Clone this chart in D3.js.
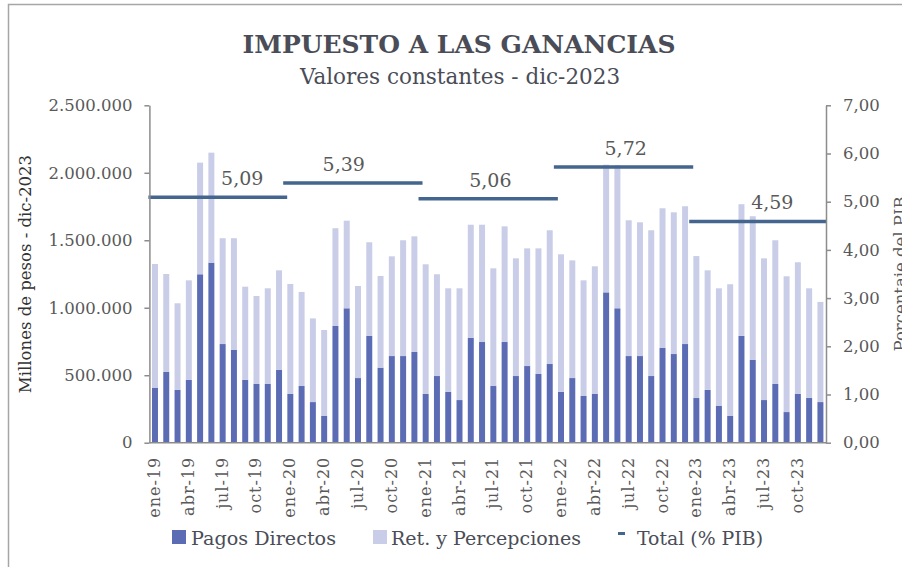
<!DOCTYPE html>
<html>
<head>
<meta charset="utf-8">
<script src="https://cdn.jsdelivr.net/npm/d3@7"></script>
<style>
  html, body { margin: 0; padding: 0; background: #fff; }
  #chart-wrapper { width: 902px; height: 567px; }
</style>
</head>
<body>
<div id="chart-wrapper"></div>
<script>
// Data (millones de pesos, valores constantes dic-2023)
const monthNames = ["ene","feb","mar","abr","may","jun","jul","ago","sep","oct","nov","dic"]
const years = ["19","20","21","22","23"]
const pagosDirectos = [
  408000, 524000, 391000, 465000, 1248000, 1334000, 731000, 687000, 465000, 435000, 435000, 539000,
  361000, 420000, 301000, 198000, 865000, 996000, 479000, 791000, 556000, 642000, 642000, 672000,
  361000, 494000, 376000, 316000, 776000, 746000, 420000, 746000, 494000, 568000, 509000, 583000,
  376000, 479000, 346000, 361000, 1114000, 996000, 642000, 642000, 494000, 702000, 657000, 731000,
  331000, 391000, 272000, 198000, 791000, 613000, 316000, 435000, 227000, 361000, 331000, 301000
]
const retYPercepciones = [
  916000, 726000, 642000, 738000, 827000, 815000, 784000, 828000, 691000, 652000, 709000, 738000,
  815000, 697000, 620000, 637000, 724000, 649000, 682000, 694000, 679000, 739000, 858000, 857000,
  961000, 754000, 768000, 828000, 839000, 869000, 872000, 857000, 872000, 872000, 931000, 991000,
  1020000, 872000, 857000, 946000, 946000, 1061000, 1006000, 991000, 1080000, 1035000, 1050000, 1021000,
  1052000, 886000, 872000, 976000, 976000, 1065000, 1050000, 1065000, 1006000, 976000, 813000, 742000
]
const totalPIB = [5.09, 5.39, 5.06, 5.72, 4.59]
const leftTicks = [0, 500000, 1000000, 1500000, 2000000, 2500000]
const rightTicks = [0, 1, 2, 3, 4, 5, 6, 7]
const legendLabels = ["Pagos Directos", "Ret. y Percepciones", "Total (% PIB)"]

// Config
const config = {
  width: 902, height: 567,
  margin: {left: 149.4, right: 76, top: 105.3, bottom: 124.3},
  font: "DejaVu Serif",
  textColor: "#595959",
  titleColor: "#4a4d57",
  axisColor: "#8c8c8c",
  dark: "#5b6cb4",
  light: "#c9cde7",
  line: "#44658d",
  labelMonth: [8, 5, 6, 6, 7] // month where each yearly label sits
}

const categories = []
years.forEach(y => monthNames.forEach(m => categories.push(`${m}-${y}`)))
const data = categories.map((c, i) => ({cat: c, pd: pagosDirectos[i], rp: retYPercepciones[i]}))

const locale = d3.formatLocale({decimal: ",", thousands: ".", grouping: [3], currency: ["$", ""]})
const fmtLeft = locale.format(",.0f")
const fmtRight = locale.format(",.2f")

const draw = () => {
  const {width, height, margin} = config
  const svg = d3.select("#chart-wrapper").append("svg")
    .attr("width", width).attr("height", height)
    .style("font-family", config.font)

  // outer frame
  svg.append("path")
    .attr("d", `M8.5,${height} V4.5 H${width}`)
    .attr("fill", "none").attr("stroke", "#a6a6a6").attr("stroke-width", 1.5)

  const x0 = margin.left, x1 = width - margin.right
  const yT = margin.top, yB = height - margin.bottom

  const x = d3.scaleBand().domain(categories).range([x0, x1]).paddingInner(0.47).paddingOuter(0.23)
  const yL = d3.scaleLinear().domain([0, 2500000]).range([yB, yT])
  const yR = d3.scaleLinear().domain([0, 7]).range([yB, yT])

  // Stacked bars
  const stack = d3.stack().keys(["pd", "rp"])(data)
  const colors = {pd: config.dark, rp: config.light}
  svg.append("g").selectAll("g").data(stack).join("g")
    .attr("fill", d => colors[d.key])
    .selectAll("rect").data(d => d).join("rect")
    .attr("x", d => x(d.data.cat))
    .attr("width", x.bandwidth())
    .attr("y", d => yL(d[1]))
    .attr("height", d => yL(d[0]) - yL(d[1]))

  // Yearly total (% PIB) segments
  const gap = (x.step() - x.bandwidth()) / 2
  const segs = years.map((y, i) => {
    const first = categories[i * 12], last = categories[i * 12 + 11]
    const a = x(first) - gap - 1.5
    const b = x(last) + x.bandwidth() + gap + 2.5
    return {v: totalPIB[i], a: Math.max(a, x0 - 1), b: Math.min(b, x1), i}
  })
  svg.append("g").selectAll("line").data(segs).join("line")
    .attr("x1", d => d.a).attr("x2", d => d.b)
    .attr("y1", d => yR(d.v)).attr("y2", d => yR(d.v))
    .attr("stroke", config.line).attr("stroke-width", 3.5)
  svg.append("g").selectAll("text").data(segs).join("text")
    .attr("x", d => x(categories[d.i * 12 + config.labelMonth[d.i]]) + x.bandwidth() / 2 - 3)
    .attr("y", d => yR(d.v) - 12)
    .attr("text-anchor", "middle")
    .attr("font-size", 19)
    .attr("fill", config.textColor)
    .text(d => fmtRight(d.v))

  // Left axis
  const leftAxis = svg.append("g")
    .attr("transform", `translate(${x0},0)`)
    .call(d3.axisLeft(yL).tickValues(leftTicks).tickFormat(fmtLeft).tickSizeInner(5).tickSizeOuter(0).tickPadding(12))
  leftAxis.selectAll("text").attr("font-size", 16.5).attr("fill", config.textColor).attr("font-family", config.font)
  leftAxis.selectAll("line,path").attr("stroke", config.axisColor).attr("stroke-width", 1.5)

  // Right axis
  const rightAxis = svg.append("g")
    .attr("transform", `translate(${x1},0)`)
    .call(d3.axisRight(yR).tickValues(rightTicks).tickFormat(fmtRight).tickSizeInner(5).tickSizeOuter(0).tickPadding(12))
  rightAxis.selectAll("text").attr("font-size", 16.5).attr("fill", config.textColor).attr("font-family", config.font)
  rightAxis.selectAll("line,path").attr("stroke", config.axisColor).attr("stroke-width", 1.5)

  // Bottom axis
  const xTicks = categories.filter((c, i) => i % 3 == 0)
  const bottomAxis = svg.append("g")
    .attr("transform", `translate(0,${yB})`)
    .call(d3.axisBottom(x).tickValues(xTicks).tickSize(0).tickPadding(0))
  bottomAxis.select("path").attr("d", `M${x0},0H${x1}`).attr("stroke", config.axisColor).attr("stroke-width", 1.5)
  bottomAxis.selectAll("text")
    .attr("font-size", 16).attr("fill", config.textColor).attr("font-family", config.font)
    .attr("text-anchor", "end").attr("dy", null)
    .attr("letter-spacing", 1)
    .attr("transform", "translate(5,14) rotate(-90)")

  // Axis titles
  svg.append("text")
    .attr("transform", `translate(31,${(yT + yB) / 2}) rotate(-90)`)
    .attr("text-anchor", "middle").attr("font-size", 16.5).attr("fill", "#333")
    .text("Millones  de pesos  - dic-2023")
  svg.append("text")
    .attr("transform", `translate(906,${(yT + yB) / 2}) rotate(-90)`)
    .attr("text-anchor", "middle").attr("font-size", 16.5).attr("fill", config.textColor)
    .text("Porcentaje  del PIB")

  // Titles
  svg.append("text")
    .attr("x", 459).attr("y", 53).attr("text-anchor", "middle")
    .attr("font-size", 25).attr("font-weight", "bold").attr("fill", config.titleColor)
    .text("IMPUESTO A LAS GANANCIAS")
  svg.append("text")
    .attr("x", 460).attr("y", 84).attr("text-anchor", "middle")
    .attr("font-size", 21.5).attr("fill", config.titleColor)
    .text("Valores constantes - dic-2023")

  // Legend
  const legend = svg.append("g").attr("font-size", 19).attr("fill", config.titleColor)
  legend.append("rect").attr("x", 172).attr("y", 530).attr("width", 14).attr("height", 14).attr("fill", config.dark)
  legend.append("text").attr("x", 191).attr("y", 545).attr("textLength", 145).attr("lengthAdjust", "spacingAndGlyphs").text(legendLabels[0])
  legend.append("rect").attr("x", 373).attr("y", 530).attr("width", 14).attr("height", 14).attr("fill", config.light)
  legend.append("text").attr("x", 391).attr("y", 545).attr("textLength", 190).attr("lengthAdjust", "spacingAndGlyphs").text(legendLabels[1])
  legend.append("line").attr("x1", 618).attr("x2", 625).attr("y1", 533.5).attr("y2", 533.5)
    .attr("stroke", config.line).attr("stroke-width", 3)
  legend.append("text").attr("x", 637).attr("y", 545).attr("textLength", 126).attr("lengthAdjust", "spacingAndGlyphs").text(legendLabels[2])
}

draw()
</script>
</body>
</html>
